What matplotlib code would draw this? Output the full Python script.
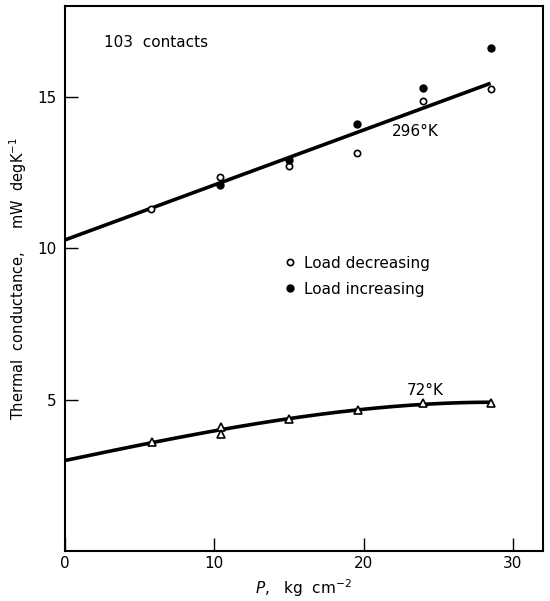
import numpy as np
import matplotlib.pyplot as plt

# 296 K, load decreasing (open circles)
p_dec = [5.75, 10.4, 15.0, 19.55, 23.95, 28.5]
k_dec = [11.29, 12.37, 12.73, 13.14, 14.85, 15.25]
# 296 K, load increasing (filled circles)
p_inc = [10.4, 15.0, 19.55, 23.95, 28.5]
k_inc = [12.10, 12.92, 14.10, 15.31, 16.63]
# 296 K fitted line
line_p = [0.0, 28.5]
line_k = [10.28, 15.45]

# 72 K (triangles)
p_72 = [5.85, 10.45, 10.45, 15.0, 19.6, 24.0, 28.55]
k_72 = [3.62, 4.10, 3.87, 4.36, 4.67, 4.89, 4.91]
# 72 K smooth curve, key points
curve_p = [0.0, 5.85, 10.45, 15.0, 19.6, 24.0, 26.5, 28.6]
curve_k = [2.99, 3.63, 4.00, 4.36, 4.68, 4.87, 4.92, 4.91]

plt.rcParams['font.family'] = ['DejaVu Sans']
plt.rcParams['font.size'] = 11

fig = plt.figure(figsize=(5.5, 6.01), dpi=100)
ax = fig.add_axes([0.118, 0.0824, 0.869, 0.9076])

ax.plot(line_p, line_k, color="black", lw=2.6, solid_capstyle="butt", zorder=2)
coef = np.polyfit(curve_p, curve_k, 3)
xs = np.linspace(curve_p[0], curve_p[-1], 200)
ax.plot(xs, np.polyval(coef, xs), color="black", lw=2.6, solid_capstyle="butt", zorder=2)

ax.plot(p_dec, k_dec, "o", mfc="white", mec="black", mew=1.2, ms=4.5,
        ls="none", label="Load decreasing", zorder=3)
ax.plot(p_inc, k_inc, "o", mfc="black", mec="black", ms=5,
        ls="none", label="Load increasing", zorder=3)
ax.plot(p_72, k_72, "^", mfc="white", mec="black", mew=1.2, ms=6,
        ls="none", zorder=3)

ax.text(2.6, 16.78, "103  contacts", ha="left", va="center")
ax.text(21.9, 13.85, "296°K", ha="left", va="center")
ax.text(22.9, 5.3, "72°K", ha="left", va="center")

ax.legend(loc="upper left", bbox_to_anchor=(0.455, 0.542), frameon=False,
          borderpad=0, borderaxespad=0, handlelength=1.0, handletextpad=0.4,
          labelspacing=0.7, fontsize=11)

ax.set_xlim(0, 32)
ax.set_ylim(0, 18)
ax.set_xticks([0, 10, 20, 30])
ax.set_yticks([5, 10, 15])
ax.tick_params(direction="in", length=9.5, width=1.0, labelsize=11)
ax.tick_params(axis="x", pad=3)
ax.tick_params(axis="y", pad=6)
for s in ax.spines.values():
    s.set_linewidth(1.5)

ax.set_xlabel(r"$P$,   kg  cm$^{-2}$", labelpad=5)
ax.set_ylabel(r"Thermal  conductance,     mW  degK$^{-1}$", labelpad=6,
              fontsize=10.5)

fig.savefig("out.png", dpi=100)
